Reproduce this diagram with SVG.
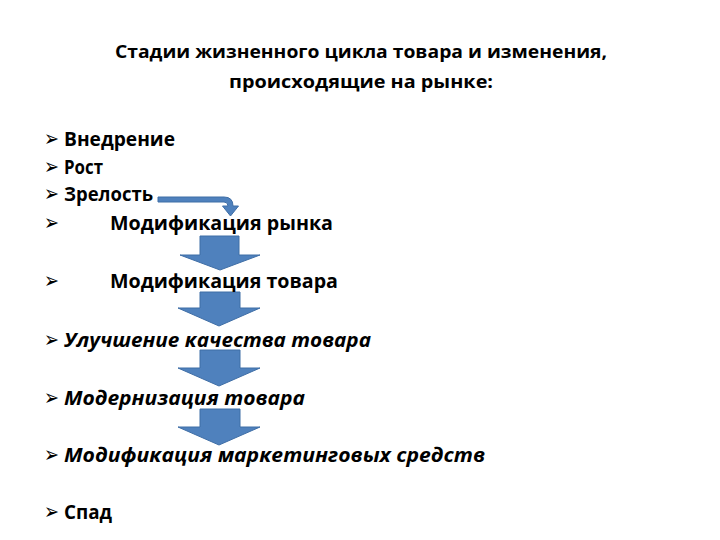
<svg xmlns="http://www.w3.org/2000/svg" width="720" height="540" viewBox="0 0 720 540">
<style>
.t{font-family:"Open Sans","Noto Sans","DejaVu Sans",sans-serif;font-weight:bold;fill:#000}
.title{font-size:18px}
.item{font-size:20px}
.it{font-style:italic}
.b{font-family:"DejaVu Sans",sans-serif;font-size:22px;fill:#000}
.arr{fill:#4f81bd;stroke:#3f6ea6;stroke-width:1}
</style>
<rect width="720" height="540" fill="#fff"/>
<g id="connectors">
<path class="arr" d="M158,197 L224,197 Q233,197 233,206 L238.5,206 L230.5,216 L222.5,206 L228,206 Q228,202 224,202 L158,202 Z"/>
<path class="arr" d="M200,236 H239 V255 H260 L220,270 L180,255 H200 Z"/>
<path class="arr" d="M200,292 H240 V308 H260 L219,326 L178,308 H200 Z"/>
<path class="arr" d="M200,350 H240 V368 H260 L219,386 L178,368 H200 Z"/>
<path class="arr" d="M200,409 H240 V427 H260 L219,445 L178,427 H200 Z"/>
</g>
<g id="title">
<text class="t title" x="115" y="58" textLength="492" lengthAdjust="spacingAndGlyphs">Стадии жизненного цикла товара и изменения,</text>
<text class="t title" x="229" y="88" textLength="264" lengthAdjust="spacingAndGlyphs">происходящие на рынке:</text>
</g>
<g id="n1"><text class="b" x="44" y="146" textLength="15" lengthAdjust="spacingAndGlyphs">➢</text><text class="t item" x="64" y="146" textLength="111" lengthAdjust="spacingAndGlyphs">Внедрение</text></g>
<g id="n2"><text class="b" x="44" y="174" textLength="15" lengthAdjust="spacingAndGlyphs">➢</text><text class="t item" x="64" y="174" textLength="39" lengthAdjust="spacingAndGlyphs">Рост</text></g>
<g id="n3"><text class="b" x="44" y="201" textLength="15" lengthAdjust="spacingAndGlyphs">➢</text><text class="t item" x="64" y="201" textLength="89" lengthAdjust="spacingAndGlyphs">Зрелость</text></g>
<g id="n4"><text class="b" x="44" y="230" textLength="15" lengthAdjust="spacingAndGlyphs">➢</text><text class="t item" x="110" y="230" textLength="223" lengthAdjust="spacingAndGlyphs">Модификация рынка</text></g>
<g id="n5"><text class="b" x="44" y="288" textLength="15" lengthAdjust="spacingAndGlyphs">➢</text><text class="t item" x="110" y="288" textLength="228" lengthAdjust="spacingAndGlyphs">Модификация товара</text></g>
<g id="n6"><text class="b" x="44" y="347" textLength="15" lengthAdjust="spacingAndGlyphs">➢</text><text class="t item it" x="64" y="347" textLength="307" lengthAdjust="spacingAndGlyphs">Улучшение качества товара</text></g>
<g id="n7"><text class="b" x="44" y="405" textLength="15" lengthAdjust="spacingAndGlyphs">➢</text><text class="t item it" x="64" y="405" textLength="241" lengthAdjust="spacingAndGlyphs">Модернизация товара</text></g>
<g id="n8"><text class="b" x="44" y="462" textLength="15" lengthAdjust="spacingAndGlyphs">➢</text><text class="t item it" x="64" y="462" textLength="421" lengthAdjust="spacingAndGlyphs">Модификация маркетинговых средств</text></g>
<g id="n9"><text class="b" x="44" y="519" textLength="15" lengthAdjust="spacingAndGlyphs">➢</text><text class="t item" x="64" y="519" textLength="48" lengthAdjust="spacingAndGlyphs">Спад</text></g>
</svg>
